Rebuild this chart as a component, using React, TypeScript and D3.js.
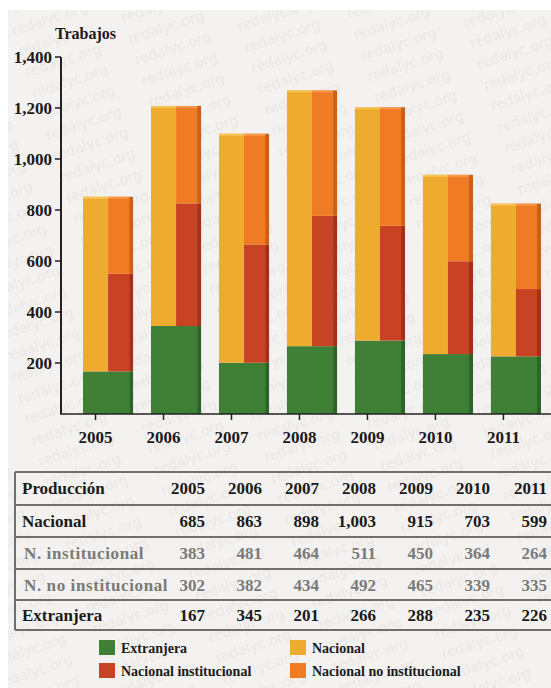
import React from "react";
import * as d3 from "d3";

const years = ["2005", "2006", "2007", "2008", "2009", "2010", "2011"];
const nacional = [685, 863, 898, 1003, 915, 703, 599];
const institucional = [383, 481, 464, 511, 450, 364, 264];
const noInstitucional = [302, 382, 434, 492, 465, 339, 335];
const extranjera = [167, 345, 201, 266, 288, 235, 226];
const yTicks = [200, 400, 600, 800, 1000, 1200, 1400];

const rowLabels = ["Nacional", "N. institucional", "N. no institucional", "Extranjera"];
const rowValues = [nacional, institucional, noInstitucional, extranjera];

const C = {
  green: "#3f7f36",
  greenD: "#2e6428",
  yellow: "#eeab2f",
  yellowL: "#f5c457",
  orange: "#f07b25",
  orangeD: "#c7621c",
  orangeL: "#f69a4f",
  red: "#c84323",
  redD: "#a0331a",
};

const FONT = "'Liberation Serif', 'DejaVu Serif', serif";
const fmt = d3.format(",");

export default function App() {
  const W = 551, H = 688;
  const y = d3.scaleLinear().domain([0, 1400]).range([414, 57]);
  const x = d3.scaleBand().domain(years).range([83, 541]).paddingInner(0.263).paddingOuter(0);
  const bw = x.bandwidth();
  const half = bw / 2;
  const side = 4;

  const colRight = d3.scalePoint().domain(years).range([205, 547]);

  const rowY = [472, 505, 537, 569, 600, 630];

  return (
    <svg width={W} height={H} style={{ position: "absolute", left: 0, top: 0 }} fontFamily={FONT}>
      <defs>
        <pattern id="wm" width="108" height="22" patternUnits="userSpaceOnUse" patternTransform="rotate(-18)">
          <text x="2" y="16" fontSize="14" fontFamily="'DejaVu Sans', sans-serif" fill="#e2dede">redalyc.org</text>
        </pattern>
      </defs>
      <rect x={0} y={0} width={W} height={H} fill="#ffffff" />
      <rect x={8} y={10} width={W - 8} height={H - 10} fill="#f3f2f0" />
      <rect x={8} y={10} width={W - 8} height={H - 10} fill="url(#wm)" opacity={0.55} />

      {/* bars */}
      {years.map((yr, i) => {
        const x0 = x(yr)!;
        const e = extranjera[i];
        const tot = e + nacional[i];
        const ins = e + institucional[i];
        const tot2 = ins + noInstitucional[i];
        return (
          <g key={yr}>
            <rect x={x0} y={y(e)} width={bw - side} height={y(0) - y(e)} fill={C.green} />
            <rect x={x0 + bw - side} y={y(e)} width={side} height={y(0) - y(e)} fill={C.greenD} />
            <rect x={x0} y={y(tot)} width={half} height={y(e) - y(tot)} fill={C.yellow} />
            <rect x={x0} y={y(tot)} width={half} height={2} fill={C.yellowL} />
            <rect x={x0 + half} y={y(ins)} width={half - side} height={y(e) - y(ins)} fill={C.red} />
            <rect x={x0 + bw - side} y={y(ins)} width={side} height={y(e) - y(ins)} fill={C.redD} />
            <rect x={x0 + half} y={y(tot2)} width={half - side} height={y(ins) - y(tot2)} fill={C.orange} />
            <rect x={x0 + bw - side} y={y(tot2)} width={side} height={y(ins) - y(tot2)} fill={C.orangeD} />
            <rect x={x0 + half} y={y(tot2)} width={half - side} height={2} fill={C.orangeL} />
          </g>
        );
      })}

      {/* y axis */}
      <line x1={61} x2={61} y1={y(1400)} y2={y(0)} stroke="#222" strokeWidth={2} />
      {yTicks.map((t) => (
        <g key={t}>
          <line x1={55} x2={61} y1={y(t)} y2={y(t)} stroke="#222" strokeWidth={1.5} />
          <text x={52} y={y(t) + 6} textAnchor="end" fontSize={17} fontWeight="bold" fill="#1a1a1a">
            {fmt(t)}
          </text>
        </g>
      ))}
      <text x={55} y={39} fontSize={16} fontWeight="bold" fill="#1a1a1a">Trabajos</text>

      {/* x axis */}
      <line x1={60} x2={W} y1={y(0)} y2={y(0)} stroke="#222" strokeWidth={1.5} />
      {years.map((yr) => {
        const cx = x(yr)! + half / 2;
        return (
          <g key={yr}>
            <line x1={cx} x2={cx} y1={y(0)} y2={y(0) + 6} stroke="#222" strokeWidth={1.5} />
            <text x={cx} y={443} textAnchor="middle" fontSize={17} fontWeight="bold" fill="#1a1a1a">{yr}</text>
          </g>
        );
      })}

      {/* table */}
      {rowY.map((ry, i) => (
        <line key={i} x1={15} x2={W} y1={ry} y2={ry} stroke="#6f6f6f" strokeWidth={2} />
      ))}
      <line x1={15} x2={15} y1={rowY[0]} y2={rowY[5]} stroke="#6f6f6f" strokeWidth={2} />
      <text x={22} y={494} fontSize={17} fontWeight="bold" fill="#1a1a1a">Producción</text>
      {years.map((yr) => (
        <text key={yr} x={colRight(yr)!} y={494} textAnchor="end" fontSize={17} fontWeight="bold" fill="#1a1a1a">{yr}</text>
      ))}
      {rowLabels.map((lab, r) => {
        const gray = r === 1 || r === 2;
        const fill = gray ? "#7a7a7a" : "#1a1a1a";
        const by = (rowY[r + 1] + rowY[r + 2]) / 2 + 6;
        return (
          <g key={lab}>
            <text x={gray ? 24 : 22} y={by} fontSize={17} fontWeight="bold" fill={fill} letterSpacing={gray ? 0.6 : 0}>{lab}</text>
            {rowValues[r].map((v, i) => (
              <text key={i} x={colRight(years[i])!} y={by} textAnchor="end" fontSize={17} fontWeight="bold" fill={fill}>{fmt(v)}</text>
            ))}
          </g>
        );
      })}

      {/* legend */}
      {[
        { c: C.green, t: "Extranjera", x: 99, y: 640 },
        { c: C.red, t: "Nacional institucional", x: 99, y: 663 },
        { c: C.yellow, t: "Nacional", x: 290, y: 640 },
        { c: C.orange, t: "Nacional no institucional", x: 290, y: 663 },
      ].map((l) => (
        <g key={l.t}>
          <rect x={l.x} y={l.y} width={16} height={15} fill={l.c} />
          <text x={l.x + 22} y={l.y + 13} fontSize={14} fontWeight="bold" fill="#1a1a1a">{l.t}</text>
        </g>
      ))}
    </svg>
  );
}
